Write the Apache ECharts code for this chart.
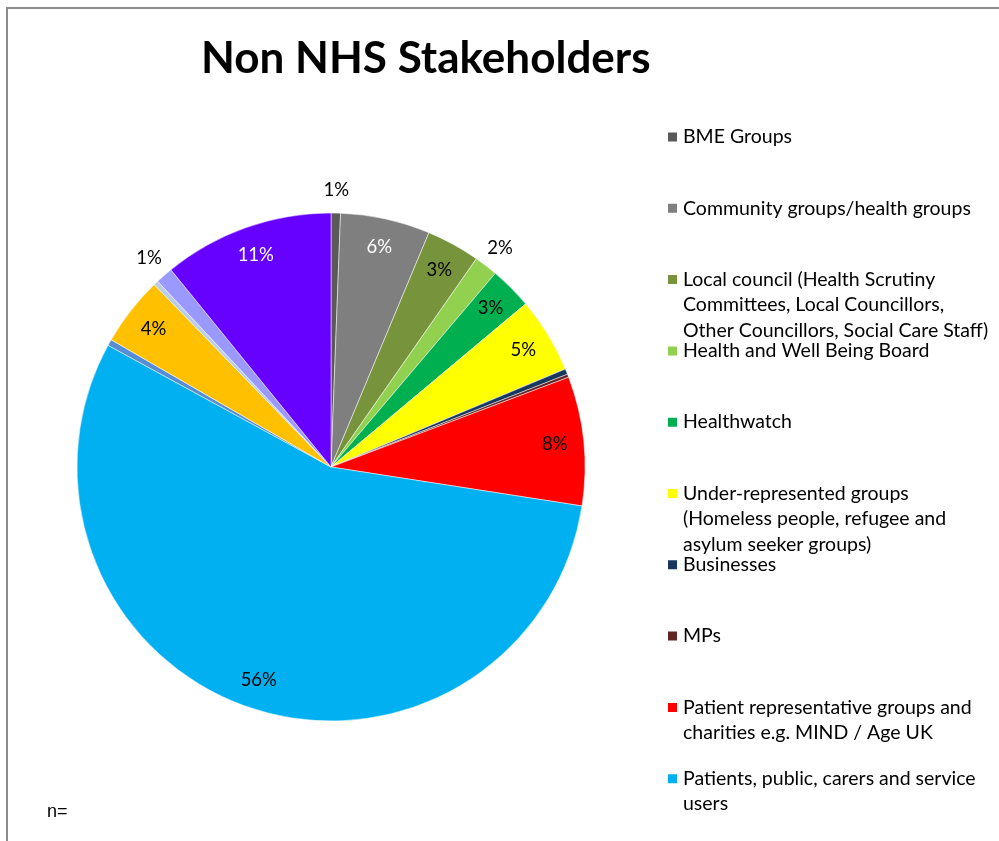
<!DOCTYPE html>
<html>
<head>
<meta charset="utf-8">
<script src="https://cdn.jsdelivr.net/npm/echarts@6/dist/echarts.min.js"></script>
<style>
  html, body { margin: 0; padding: 0; background: #ffffff; }
  #chart { width: 999px; height: 841px; }
</style>
</head>
<body>
<div id="chart"></div>
<script>
// Stakeholder groups, clockwise from 12 o'clock
const categories = [
  'BME Groups',
  'Community groups/health groups',
  'Local council (Health Scrutiny Committees, Local Councillors, Other Councillors, Social Care Staff)',
  'Health and Well Being Board',
  'Healthwatch',
  'Under-represented groups (Homeless people, refugee and asylum seeker groups)',
  'Businesses',
  'MPs',
  'Patient representative groups and charities e.g. MIND / Age UK',
  'Patients, public, carers and service users',
  'Other group 1',
  'Other group 2',
  'Other group 3',
  'Other group 4',
  'Other group 5'
];

// Share of responses (%)
const shares = [0.6, 5.7, 3.4, 1.5, 2.7, 4.8, 0.35, 0.2, 8.2, 55.5, 0.4, 4.4, 0.3, 1.1, 10.85];

const colors = [
  '#595959', '#7f7f7f', '#77933c', '#92d050', '#00b050',
  '#ffff00', '#17375e', '#632523', '#ff0000', '#00b0f0',
  '#558ed5', '#ffc000', '#b9cde5', '#9999ff', '#6600ff'
];

// Legend entries and their wrapped text
const legendNames = categories.slice(0, 10);
const legendText = [
  'BME Groups',
  'Community groups/health groups',
  'Local council (Health Scrutiny\nCommittees, Local Councillors,\nOther Councillors, Social Care Staff)',
  'Health and Well Being Board',
  'Healthwatch',
  'Under-represented groups\n(Homeless people, refugee and\nasylum seeker groups)',
  'Businesses',
  'MPs',
  'Patient representative groups and\ncharities e.g. MIND / Age UK',
  'Patients, public, carers and service\nusers'
];

// Slices whose percentage label is drawn in white
const whiteLabelNames = ['Community groups/health groups', 'Other group 5'];

const FONT = 'Lato, "Liberation Sans", sans-serif';
const total = shares.reduce((a, b) => a + b, 0);
const pct = v => Math.round(v / total * 100);

const CENTER = [331, 467];
const R = 254;

const mainData = categories.map((name, i) => ({
  name: name,
  value: shares[i],
  itemStyle: { color: colors[i] }
}));

// Label carrier rings: labels sit at the middle of each ring
function labelRing(keep) {
  return categories.map((name, i) => {
    const p = pct(shares[i]);
    const show = p >= 1 && keep(shares[i]);
    return {
      name: name,
      value: shares[i],
      label: {
        show: show,
        color: whiteLabelNames.indexOf(name) >= 0 ? '#ffffff' : '#000000'
      }
    };
  });
}

const labelCommon = {
  position: 'inside',
  fontFamily: FONT,
  fontSize: 18.5,
  formatter: p => pct(p.value) + '%'
};

const ringCommon = {
  type: 'pie',
  center: CENTER,
  startAngle: 90,
  clockwise: true,
  silent: true,
  animation: false,
  itemStyle: { color: 'rgba(0,0,0,0)', borderWidth: 0 },
  emphasis: { disabled: true },
  labelLine: { show: false },
  z: 5
};

// One legend component per entry, so each sits on a fixed pitch.
// Text is centred on the marker, so multi-line entries get leading
// blank lines to put their first line level with the marker.
const LINE_H = 25.5;
const ICON = 11;
const legends = legendNames.map((name, i) => {
  const n = legendText[i].split('\n').length;
  const cy = 137 + i * 71.3;
  const boxH = Math.max((2 * n - 1) * LINE_H, ICON);
  return {
    data: [name],
    orient: 'vertical',
    left: 666,
    top: cy - boxH / 2,
    padding: 0,
    itemWidth: ICON,
    itemHeight: ICON,
    icon: 'rect',
    selectedMode: false,
    formatter: () => '\n'.repeat(n - 1) + legendText[i],
    textStyle: {
      fontFamily: FONT,
      fontSize: 19.5,
      color: '#000000',
      lineHeight: LINE_H
    }
  };
});

const chart = echarts.init(document.getElementById('chart'), null, { renderer: 'canvas' });
chart.setOption({
  backgroundColor: '#ffffff',
  animation: false,
  title: [
    {
      text: 'Non NHS Stakeholders',
      left: 201,
      top: 37,
      padding: 0,
      textStyle: { fontFamily: FONT, fontSize: 44, fontWeight: 'bold', color: '#000000' }
    },
    {
      text: 'n=',
      left: 47,
      top: 803,
      padding: 0,
      textStyle: { fontFamily: '"Liberation Sans", Arial, sans-serif', fontSize: 18, fontWeight: 'normal', color: '#000000' }
    }
  ],
  legend: legends,
  graphic: [{
    type: 'polyline',
    shape: { points: [[7, 841], [7, 8], [999, 8]] },
    style: { stroke: '#8c8c8c', lineWidth: 2, fill: null },
    silent: true
  }],
  series: [
    {
      name: 'Non NHS Stakeholders',
      type: 'pie',
      center: CENTER,
      radius: [0, R],
      startAngle: 90,
      clockwise: true,
      animation: false,
      label: { show: false },
      labelLine: { show: false },
      itemStyle: { borderColor: '#ffffff', borderWidth: 0.5 },
      data: mainData
    },
    Object.assign({}, ringCommon, {
      name: 'inner labels',
      radius: [194, 250],
      label: labelCommon,
      data: labelRing(v => v >= 2)
    }),
    Object.assign({}, ringCommon, {
      name: 'outer labels',
      radius: [250, 298],
      label: labelCommon,
      data: labelRing(v => v < 2)
    })
  ]
});
</script>
</body>
</html>
